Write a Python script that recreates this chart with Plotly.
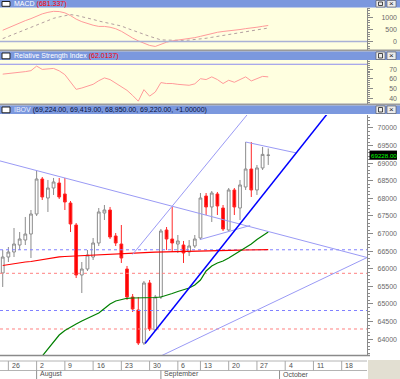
import plotly.graph_objects as go
import pandas as pd

W, H = 400, 379

# ---------------- data ----------------
dates = ["2010-07-23", "2010-07-26", "2010-07-27", "2010-07-28", "2010-07-29", "2010-07-30",
         "2010-08-02", "2010-08-03", "2010-08-04", "2010-08-05", "2010-08-06",
         "2010-08-09", "2010-08-10", "2010-08-11", "2010-08-12", "2010-08-13",
         "2010-08-16", "2010-08-17", "2010-08-18", "2010-08-19", "2010-08-20",
         "2010-08-23", "2010-08-24", "2010-08-25", "2010-08-26", "2010-08-27",
         "2010-08-30", "2010-08-31", "2010-09-01", "2010-09-02", "2010-09-03",
         "2010-09-06", "2010-09-08", "2010-09-09", "2010-09-10",
         "2010-09-13", "2010-09-14", "2010-09-15", "2010-09-16", "2010-09-17",
         "2010-09-20", "2010-09-21", "2010-09-22", "2010-09-23", "2010-09-24",
         "2010-09-27", "2010-09-28", "2010-09-29"]

open_ = [65881, 66335, 66477, 66676, 66818, 66988, 67557, 68551, 68011, 68295, 68437,
         68125, 67869, 67244, 65824, 65994, 66335, 66733, 67585, 67670, 66932,
         66704, 65994, 65199, 64830, 63892, 65597, 64261, 65199, 67102, 66846,
         66704, 66676, 66477, 66648, 66875, 68068, 67756, 68125, 67727, 67102,
         68239, 67727, 68324, 68835, 68239, 68864, 69224]
high = [66534, 66619, 67159, 67045, 67472, 67670, 68778, 68608, 68523, 68580, 68580,
        68580, 67926, 67301, 66193, 66534, 66875, 67727, 67812, 67756, 67017,
        67244, 66080, 65284, 65199, 65653, 65682, 65256, 67131, 67187, 67756,
        66960, 66790, 66818, 66960, 68153, 68153, 68210, 68182, 67812, 68295,
        68295, 68523, 69602, 69602, 68949, 69460, 69419]
low = [65483, 66193, 66335, 66534, 66676, 66307, 67500, 67955, 67614, 68097, 67983,
       67670, 67045, 65738, 65312, 65937, 66250, 66648, 67386, 66846, 66648,
       66165, 65114, 64773, 63835, 63835, 64233, 64233, 65142, 66534, 66477,
       66449, 66165, 66364, 66591, 66818, 67528, 67330, 67528, 67074, 67074,
       67528, 67386, 68239, 68040, 68097, 68807, 68950]
close = [66335, 66477, 66704, 66846, 66988, 67557, 68551, 68040, 68295, 68466, 68040,
         67898, 67273, 65824, 65994, 66392, 66733, 67614, 67670, 66903, 66733,
         66307, 65199, 64858, 63892, 65597, 64290, 65199, 67074, 66846, 66733,
         66790, 66449, 66648, 66846, 68011, 67756, 68153, 67784, 67131, 68239,
         67756, 68381, 68835, 68239, 68864, 69250, 69228]

ma_long = [66094, 66122, 66151, 66173, 66193, 66207, 66236, 66264, 66293, 66321, 66341,
           66349, 66358, 66364, 66372, 66381, 66389, 66398, 66406, 66415, 66423,
           66432, 66440, 66449, 66455, 66460, 66466, 66472, 66477, 66483, 66489,
           66494, 66500, 66506, 66509, 66511, 66514, 66517, 66520, 66523, 66526,
           66528, 66531, 66534, 66537, 66540, 66543, 66545]
ma_mid = [None, None, None, None, None, None, None,
          63523, 63721, 63949, 64119, 64247, 64347, 64432, 64517, 64588, 64659,
          64744, 64872, 65000, 65085, 65134, 65162, 65170, 65170, 65170, 65176,
          65185, 65199, 65242, 65298, 65355, 65398, 65455, 65540, 65682, 65937,
          66080, 66165, 66222, 66307, 66406, 66506, 66605, 66704, 66832, 66946, 67045]

rsi = [64.8, 65.3, 66.3, 66.9, 67.4, 68.4, 73.1, 69.7, 70.5, 70.7, 68.2,
       64.3, 56.7, 49.1, 50.5, 52.2, 54.3, 58.0, 60.9, 59.2, 55.4,
       52.2, 48.1, 42.8, 36.9, 48.8, 42.1, 46.3, 56.1, 55.1, 55.1,
       54.3, 53.8, 53.3, 54.8, 60.1, 59.2, 62.0, 59.2, 55.1, 58.5,
       56.4, 59.2, 62.0, 57.8, 60.3, 62.5, 62.0]

macd = [479, 586, 671, 786, 885, 970, 1077, 1171, 1235, 1278, 1269,
        1214, 1098, 949, 842, 757, 692, 641, 641, 607, 543,
        436, 286, 150, 30, -77, -162, -205, -98, -26, 30,
        64, 90, 115, 167, 222, 286, 342, 393, 427, 449,
        474, 509, 547, 568, 607, 645, 681]
signal = [124, 222, 329, 415, 513, 615, 714, 821, 906, 983, 1043,
          1107, 1141, 1107, 1056, 992, 936, 868, 808, 756, 701,
          658, 564, 487, 393, 308, 222, 145, 73, 64, 51,
          43, 51, 64, 81, 103, 141, 180, 218, 261, 299,
          329, 363, 406, 444, 483, 521, 573]

holidays = ["2010-09-07"]
week_dates = ["2010-07-26", "2010-08-02", "2010-08-09", "2010-08-16", "2010-08-23",
              "2010-08-30", "2010-09-06", "2010-09-13", "2010-09-20", "2010-09-27",
              "2010-10-04", "2010-10-11", "2010-10-18"]
week_labels = ["26", "2", "9", "16", "23", "30", "6", "13", "20", "27", "4", "11", "18"]
month_dates = ["2010-08-02", "2010-09-01", "2010-10-01"]
month_labels = ["August", "September", "October"]

main_ticks = [64000, 64500, 65000, 65500, 66000, 66500, 67000, 67500, 68000, 68500, 69000, 69500, 70000]
rsi_ticks = [40, 50, 60, 70]
macd_ticks = [0, 500, 1000]
rsi_level = [75]
macd_level = [0]

levels_blue = [66540, 64815]
levels_red = [65872, 64290]

# trend lines: (trading-day position, price)
thin_lines = [
    [(-0.5, 69065), (64.5, 66320)],
    [(23.0, 66410), (44.0, 70520)],
    [(27.0, 63447), (64.5, 66320)],
    [(34.9, 66830), (43.8, 67230)],
    [(43.0, 69602), (52.0, 69290)],
]
blue_line = [(25.2, 63880), (58.0, 70515)]

last_price_text = "69228.00"
last_price = 69228

# ---------------- helpers ----------------
cal = [d.strftime("%Y-%m-%d") for d in pd.bdate_range("2010-07-23", "2010-10-22")
       if d.strftime("%Y-%m-%d") not in holidays]
pos = {d: i for i, d in enumerate(cal)}
xs = [pos[d] for d in dates]

X_LO, X_HI = -0.48, 64.48
PLOT_R = 367  # px right edge of plot areas
MAIN_TOP, MAIN_BOT = 115, 355
MAIN_RANGE = [63551, 70369]


def px(v):
    return v / W


def py(v):
    return 1 - v / H


def main_price_to_py(p):
    frac = (p - MAIN_RANGE[0]) / (MAIN_RANGE[1] - MAIN_RANGE[0])
    return MAIN_BOT - frac * (MAIN_BOT - MAIN_TOP)


FONT = "Liberation Sans, Arial, sans-serif"
BAR = "#7B98DE"
PALE = "#FFFFE0"
LBL = "#6A6A6A"

fig = go.Figure()

# dotted levels
for lv in levels_blue:
    fig.add_trace(go.Scatter(x=[X_LO, X_HI], y=[lv, lv], mode="lines",
                             line=dict(color="#8080FF", width=1, dash="dot"),
                             xaxis="x", yaxis="y", hoverinfo="skip"))
for lv in levels_red:
    fig.add_trace(go.Scatter(x=[X_LO, X_HI], y=[lv, lv], mode="lines",
                             line=dict(color="#FF8080", width=1, dash="dot"),
                             xaxis="x", yaxis="y", hoverinfo="skip"))

fig.add_trace(go.Candlestick(
    x=xs, open=open_, high=high, low=low, close=close,
    increasing=dict(line=dict(color="#8C8C8C", width=1), fillcolor="#FFFFFF"),
    decreasing=dict(line=dict(color="#FF2a2a", width=1), fillcolor="#FF0000"),
    whiskerwidth=0, xaxis="x", yaxis="y", hoverinfo="skip"))

fig.add_trace(go.Scatter(x=xs, y=ma_long, mode="lines", line=dict(color="#FF0000", width=1.2),
                         xaxis="x", yaxis="y", hoverinfo="skip"))
fig.add_trace(go.Scatter(x=xs, y=ma_mid, mode="lines", line=dict(color="#008000", width=1.2),
                         xaxis="x", yaxis="y", hoverinfo="skip", connectgaps=False))

for seg in thin_lines:
    fig.add_trace(go.Scatter(x=[seg[0][0], seg[1][0]], y=[seg[0][1], seg[1][1]], mode="lines",
                             line=dict(color="#9A9AF5", width=1), xaxis="x", yaxis="y",
                             hoverinfo="skip"))
fig.add_trace(go.Scatter(x=[blue_line[0][0], blue_line[1][0]], y=[blue_line[0][1], blue_line[1][1]],
                         mode="lines", line=dict(color="#0000FF", width=1.5), xaxis="x", yaxis="y",
                         hoverinfo="skip"))

# RSI
fig.add_trace(go.Scatter(x=xs, y=rsi, mode="lines", line=dict(color="#FF9A9A", width=1),
                         xaxis="x2", yaxis="y2", hoverinfo="skip"))
# MACD
fig.add_trace(go.Scatter(x=xs, y=signal, mode="lines", line=dict(color="#B4A0A0", width=1, dash="dot"),
                         xaxis="x3", yaxis="y3", hoverinfo="skip"))
fig.add_trace(go.Scatter(x=xs, y=macd, mode="lines", line=dict(color="#FF9A9A", width=1),
                         xaxis="x3", yaxis="y3", hoverinfo="skip"))

# empty carriers for the label axes
for xa, ya in (("x", "y4"), ("x2", "y5"), ("x3", "y6")):
    fig.add_trace(go.Scatter(x=[None], y=[None], mode="lines", xaxis=xa, yaxis=ya, hoverinfo="skip"))

shapes = []
# panel backgrounds
shapes.append(dict(type="rect", xref="paper", yref="paper", x0=0, x1=1, y0=py(50), y1=py(7.5),
                   fillcolor=PALE, line=dict(width=0), layer="below"))
shapes.append(dict(type="rect", xref="paper", yref="paper", x0=0, x1=1, y0=py(103.5), y1=py(60),
                   fillcolor=PALE, line=dict(width=0), layer="below"))
# separators
for a, b in [(49.5, 51.5), (103.5, 105.5)]:
    shapes.append(dict(type="rect", xref="paper", yref="paper", x0=0, x1=1, y0=py(b), y1=py(a),
                       fillcolor="#9A9A9A", line=dict(width=0), layer="below"))
# title bars
for a, b in [(0, 7.5), (51.5, 60), (105.5, 114)]:
    shapes.append(dict(type="rect", xref="paper", yref="paper", x0=0, x1=1, y0=py(b), y1=py(a),
                       fillcolor=BAR, line=dict(width=0), layer="below"))
    shapes.append(dict(type="rect", xref="paper", yref="paper", x0=px(2), x1=px(10),
                       y0=py(b - 1.2), y1=py(a + 1.5), fillcolor="#FFFFFF",
                       line=dict(color="#202020", width=1), layer="above"))
    for bx in (376, 387):
        shapes.append(dict(type="rect", xref="paper", yref="paper", x0=px(bx), x1=px(bx + 9),
                           y0=py(b - 0.5), y1=py(a + 0.5), fillcolor="#ECECEC",
                           line=dict(color="#505050", width=0.6), layer="above"))
    shapes.append(dict(type="rect", xref="paper", yref="paper", x0=px(378.5), x1=px(382.5),
                       y0=py(b - 2), y1=py(a + 2), fillcolor="rgba(0,0,0,0)",
                       line=dict(color="#202020", width=0.8), layer="above"))
# level lines in indicator panels
for lv in rsi_level:
    shapes.append(dict(type="line", xref="paper", yref="y2", x0=0, x1=px(PLOT_R), y0=lv, y1=lv,
                       line=dict(color="#8C8CEE", width=1.2)))
for lv in macd_level:
    shapes.append(dict(type="line", xref="paper", yref="y3", x0=0, x1=px(PLOT_R), y0=lv, y1=lv,
                       line=dict(color="#A9B1D6", width=1.5)))
# last-price box
lp_y = main_price_to_py(last_price)
shapes.append(dict(type="rect", xref="paper", yref="paper", x0=px(369.5), x1=px(397),
                   y0=py(lp_y + 4.6), y1=py(lp_y - 4.6), fillcolor="#000000",
                   line=dict(width=0), layer="above"))
# date strip
shapes.append(dict(type="rect", xref="paper", yref="paper", x0=px(PLOT_R + 1), x1=1, y0=0, y1=py(360),
                   fillcolor="#E2DFD2", line=dict(width=0), layer="below"))
shapes.append(dict(type="line", xref="paper", yref="paper", x0=0, x1=px(PLOT_R + 3), y0=py(355.5), y1=py(355.5),
                   line=dict(color="#8A8A8A", width=1.5)))
for yy in (361, 370.5):
    shapes.append(dict(type="line", xref="paper", yref="paper", x0=0, x1=px(PLOT_R), y0=py(yy), y1=py(yy),
                       line=dict(color="#B4B4B4", width=1)))
for d in week_dates:
    shapes.append(dict(type="line", xref="x", yref="paper", x0=pos[d], x1=pos[d], y0=py(370.5), y1=py(361),
                       line=dict(color="#A8A8A8", width=1)))
for d in month_dates:
    shapes.append(dict(type="line", xref="x", yref="paper", x0=pos[d], x1=pos[d], y0=py(379), y1=py(370.5),
                       line=dict(color="#909090", width=1)))

ann = []
ann.append(dict(xref="paper", yref="paper", x=px(370.3), y=py(lp_y), text=last_price_text, showarrow=False,
                xanchor="left", yanchor="middle", borderpad=0,
                font=dict(family=FONT, size=6.2, color="#00FF00")))
for d, t in zip(week_dates, week_labels):
    ann.append(dict(xref="x", yref="paper", x=pos[d], y=py(365.8), text=t, showarrow=False,
                    xanchor="left", yanchor="middle", xshift=1.5,
                    font=dict(family=FONT, size=7, color="#505050")))
for d, t in zip(month_dates, month_labels):
    ann.append(dict(xref="x", yref="paper", x=pos[d], y=py(374.3), text=t, showarrow=False,
                    xanchor="left", yanchor="middle", xshift=1,
                    font=dict(family=FONT, size=7, color="#505050")))

titles = [
    (3.8, "<span style='color:#FFFFFF'>MACD</span> <span style='color:#FF0000'>(681.337)</span>"),
    (55.8, "<span style='color:#FFFFFF'>Relative Strength Index</span> <span style='color:#FF0000'>(62.0137)</span>"),
    (109.8, "<span style='color:#EAF0FF'>IBOV</span> <span style='color:#0A1240'>(69,224.00, 69,419.00, 68,950.00, 69,220.00, +1.00000)</span>"),
]
for yy, t in titles:
    ann.append(dict(xref="paper", yref="paper", x=px(12), y=py(yy), text=t, showarrow=False,
                    xanchor="left", yanchor="middle", font=dict(family=FONT, size=7)))
for yy in (3.8, 55.8, 109.8):
    ann.append(dict(xref="paper", yref="paper", x=px(391.5), y=py(yy), text="×", showarrow=False,
                    xanchor="center", yanchor="middle", font=dict(family=FONT, size=8, color="#202020")))

axis_common = dict(showgrid=False, zeroline=False, fixedrange=True)
yax_common = dict(side="right", showline=True, linecolor="#8A8A8A", linewidth=1, ticks="outside",
                  ticklen=5, tickcolor="#8A8A8A", showticklabels=False, **axis_common)
lab_common = dict(side="left", anchor="free", position=px(397), showline=False, ticks="",
                  showticklabels=True, tickfont=dict(family=FONT, size=7, color=LBL),
                  tickformat="d", **axis_common)

fig.update_layout(
    width=W, height=H, margin=dict(l=0, r=0, t=0, b=0, autoexpand=False),
    paper_bgcolor="#FFFFFF", plot_bgcolor="rgba(0,0,0,0)",
    showlegend=False, hovermode=False, dragmode=False,
    xaxis=dict(domain=[0, px(PLOT_R)], range=[X_LO, X_HI], anchor="y", visible=False,
               rangeslider=dict(visible=False), **axis_common),
    xaxis2=dict(domain=[0, px(PLOT_R)], range=[X_LO, X_HI], anchor="y2", visible=False, matches="x",
                **axis_common),
    xaxis3=dict(domain=[0, px(PLOT_R)], range=[X_LO, X_HI], anchor="y3", visible=False, matches="x",
                **axis_common),
    yaxis=dict(domain=[py(MAIN_BOT), py(MAIN_TOP)], range=MAIN_RANGE, anchor="x", tickvals=main_ticks,
               minor=dict(ticks="outside", ticklen=2, tickcolor="#8A8A8A", tickmode="linear", tick0=0, dtick=100),
               **yax_common),
    yaxis2=dict(domain=[py(103.5), py(60)], range=[34.5, 79.4], anchor="x2", tickvals=rsi_ticks,
                minor=dict(ticks="outside", ticklen=2, tickcolor="#8A8A8A", tickmode="linear", tick0=0, dtick=2),
                **yax_common),
    yaxis3=dict(domain=[py(50), py(7.5)], range=[-355, 1440], anchor="x3", tickvals=macd_ticks,
                minor=dict(ticks="outside", ticklen=2, tickcolor="#8A8A8A", tickmode="linear", tick0=0, dtick=100),
                **yax_common),
    yaxis4=dict(overlaying="y", range=MAIN_RANGE, tickvals=main_ticks, **lab_common),
    yaxis5=dict(overlaying="y2", range=[34.5, 79.4], tickvals=rsi_ticks, **lab_common),
    yaxis6=dict(overlaying="y3", range=[-355, 1440], tickvals=macd_ticks, **lab_common),
    shapes=shapes, annotations=ann,
)

fig.write_html("out.html",
               config={"displayModeBar": False, "staticPlot": True},
               post_script="document.body.style.margin='0';document.body.style.padding='0';"
                           "document.body.style.overflow='hidden';"
                           "document.documentElement.style.overflow='hidden';")
